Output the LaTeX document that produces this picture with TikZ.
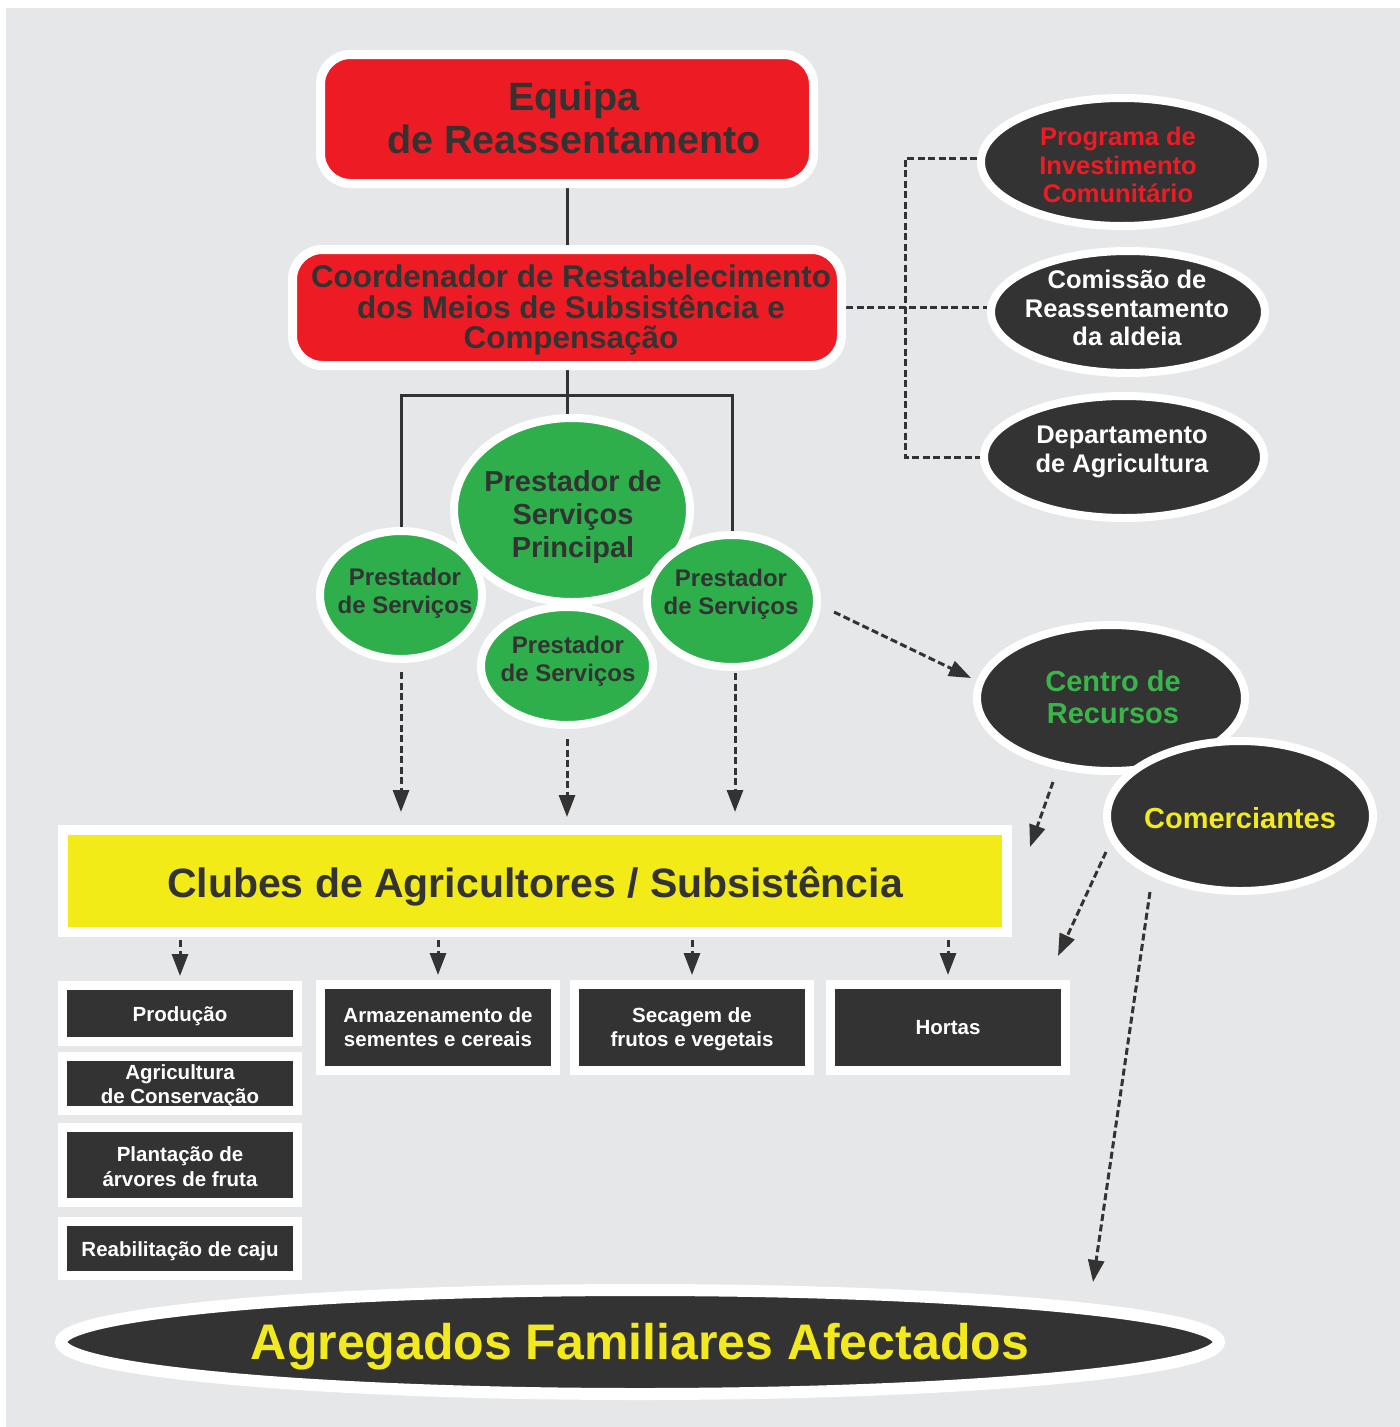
\documentclass[tikz,border=0pt]{standalone}
\usepackage{fontspec}
\setmainfont{Liberation Sans}
\usetikzlibrary{shapes.geometric,arrows.meta,calc}
\definecolor{bggray}{HTML}{E6E7E8}
\definecolor{rred}{HTML}{ED1C24}
\definecolor{dk}{HTML}{333333}
\definecolor{gr}{HTML}{2FAE4C}
\definecolor{yl}{HTML}{F2EB17}
\definecolor{ytext}{HTML}{F2EA1E}
\definecolor{gtext}{HTML}{3AB54A}
\pgfdeclarelayer{back}
\pgfdeclarelayer{lines}
\pgfsetlayers{back,lines,main}
\newcommand\fsz[2]{\fontsize{#1}{#2}\selectfont\bfseries}
% #1 left padding (shifts text right by half), #2 downward shift, #3 text
\newcommand\shtx[3]{\raisebox{-#2}[\height][\depth]{\hspace*{#1}\begin{tabular}{@{}c@{}}#3\end{tabular}}}
\begin{document}
\begin{tikzpicture}[x=1pt,y=-1pt,
  redbox/.style={rectangle, rounded corners=30pt, fill=rred, draw=white, line width=9pt, inner sep=0pt},
  gcirc/.style={ellipse, fill=gr, draw=white, line width=8pt, inner sep=0pt},
  dell/.style={ellipse, fill=dk, draw=white, line width=8pt, inner sep=0pt},
  dbox/.style={rectangle, fill=dk, draw=white, line width=9pt, inner sep=0pt, text=white, align=center, minimum width=235pt, font=\fsz{20.5}{24.5}},
  lbl/.style={align=center, inner sep=0pt},
  gtxt/.style={lbl, text=dk, font=\fsz{24}{28}},
  rtxt/.style={lbl, font=\fsz{25.5}{28.5}},
  sline/.style={draw=dk, line width=3pt},
  dline/.style={draw=dk, line width=3pt, dash pattern=on 7pt off 3.5pt},
  darr/.style={dline, -{Triangle[length=22pt,width=16pt]}}
]
\useasboundingbox (0,0) rectangle (1400,1427);
\begin{pgfonlayer}{back}
  \fill[white] (0,0) rectangle (1400,1427);
  \fill[bggray] (6,8) rectangle (1400,1427);
\end{pgfonlayer}

% top boxes
\node[redbox, minimum width=493pt, minimum height=129pt] (equipa) at (567,119) {};
\node[lbl, text=dk, font=\fsz{39.5}{43}] (equipaT) at (574,118) {Equipa\\de Reassentamento};
\node[redbox, minimum width=549pt, minimum height=116pt] (coord) at (567,307.5) {};
\node[lbl, text=dk, font=\fsz{31.4}{30.5}] (coordT) at (571,310) {Coordenador de Restabelecimento\\dos Meios de Subsistência e\\Compensação};

% right ellipses
\node[dell, minimum width=282pt, minimum height=128pt] (prog) at (1122,162) {};
\node[rtxt, text=rred] (progT) at (1118,165) {Programa de\\Investimento\\Comunitário};
\node[dell, minimum width=274pt, minimum height=122pt] (com) at (1128,312) {};
\node[rtxt, text=white] (comT) at (1127,308) {Comissão de\\Reassentamento\\da aldeia};
\node[dell, minimum width=280pt, minimum height=122pt] (dep) at (1124,457) {};
\node[rtxt, text=white] (depT) at (1122,452) {Departamento\\de Agricultura};

% green cluster
\node[gcirc, minimum width=162pt, minimum height=128pt] (ps1) at (401,595) {};
\node[gtxt] (ps1T) at (405,593) {Prestador\\de Serviços};
\node[gcirc, minimum width=236pt, minimum height=184pt] (psm) at (572,510) {};
\node[lbl, text=dk, font=\fsz{29}{33}] (psmT) at (573,517) {Prestador de\\Serviços\\Principal};
\node[gcirc, minimum width=170pt, minimum height=132pt] (ps3) at (732,601) {};
\node[gtxt] (ps3T) at (731,594) {Prestador\\de Serviços};
\node[gcirc, minimum width=172pt, minimum height=118pt] (ps2) at (567,666) {};
\node[gtxt] (ps2T) at (568,661) {Prestador\\de Serviços};

% centro / comerciantes
\node[dell, minimum width=268pt, minimum height=146pt] (cen) at (1111,698) {};
\node[lbl, text=gtext, font=\fsz{29}{32}] (cenT) at (1113,697) {Centro de\\Recursos};
\node[dell, minimum width=266pt, minimum height=150pt] (comer) at (1240,816) {};
\node[lbl, text=ytext, font=\fsz{29}{32}] (comerT) at (1240,818) {Comerciantes};

% clubes
\node[rectangle, fill=yl, draw=white, line width=10pt, minimum width=944pt, minimum height=102pt, inner sep=0pt, text=dk, font=\fsz{41}{45}] (clubes) at (535,881) {\shtx{0pt}{7pt}{Clubes de Agricultores / Subsistência}};

% bottom boxes
\node[dbox, minimum height=56pt] (prod) at (180,1013.5) {\shtx{0pt}{3pt}{Produção}};
\node[dbox, minimum height=54pt] (agri) at (180,1083.5) {\shtx{0pt}{3pt}{Agricultura\\de Conservação}};
\node[dbox, minimum height=75pt] (plant) at (180,1165) {\shtx{0pt}{4pt}{Plantação de\\árvores de fruta}};
\node[dbox, minimum height=54pt] (reab) at (180,1248.5) {\shtx{0pt}{3pt}{Reabilitação de caju}};
\node[dbox, minimum height=86pt] (arm) at (438,1027.5) {\shtx{0pt}{2pt}{Armazenamento de\\sementes e cereais}};
\node[dbox, minimum height=86pt] (sec) at (692,1027.5) {\shtx{0pt}{2pt}{Secagem de\\frutos e vegetais}};
\node[dbox, minimum height=86pt] (hort) at (948,1027.5) {\shtx{0pt}{2pt}{Hortas}};

% agregados
\node[ellipse, fill=dk, draw=white, line width=12pt, minimum width=1158pt, minimum height=104pt, inner sep=0pt, text=ytext, font=\fsz{50}{55}] (agr) at (640,1342) {\shtx{0pt}{6pt}{Agregados Familiares Afectados}};

\coordinate (jn) at (567,395);
\coordinate (bus) at (905,306);
\coordinate (agrtop) at (1093,1282);

\begin{pgfonlayer}{lines}
  \draw[sline] (equipa.south) -- (coord.north);
  \draw[sline] (coord.south) -- (coord.south |- psm.north);
  \draw[sline] (ps1.north) -- (ps1.north |- jn) -- (ps3.north |- jn) -- (ps3.north);
  \draw[dline] (coord.east) -- (coord.east -| com.west);
  \draw[dline] ([shift={(0,-4)}]prog.west) -| (bus) |- (dep.west);
  \draw[darr, shorten <=9pt, shorten >=13pt] (ps1.south) -- (ps1.south |- clubes.north);
  \draw[darr, shorten <=10pt, shorten >=8pt] (ps2.south) -- (ps2.south |- clubes.north);
  \draw[darr, shorten <=2pt, shorten >=13pt] ([shift={(3,0)}]ps3.south) -- ([shift={(3,0)}]ps3.south |- clubes.north);
  \draw[darr, shorten <=3pt, shorten >=5pt] (prod.north |- clubes.south) -- (prod.north);
  \draw[darr, shorten <=3pt, shorten >=5pt] (arm.north |- clubes.south) -- (arm.north);
  \draw[darr, shorten <=3pt, shorten >=5pt] (sec.north |- clubes.south) -- (sec.north);
  \draw[darr, shorten <=3pt, shorten >=5pt] (hort.north |- clubes.south) -- (hort.north);
  \draw[darr] ([shift={(13,11)}]ps3.east) -- ([shift={(-2,-20)}]cen.west);
  \draw[darr] ([shift={(-58,7)}]cen.south) -- ([shift={(18,22)}]clubes.north east);
  \draw[darr] ([shift={(3,36)}]comer.west) -- ([shift={(-12,-24)}]hort.north east);
  \draw[darr] ([shift={(-90,-3)}]comer.south) -- (agrtop);
\end{pgfonlayer}
\end{tikzpicture}
\end{document}
